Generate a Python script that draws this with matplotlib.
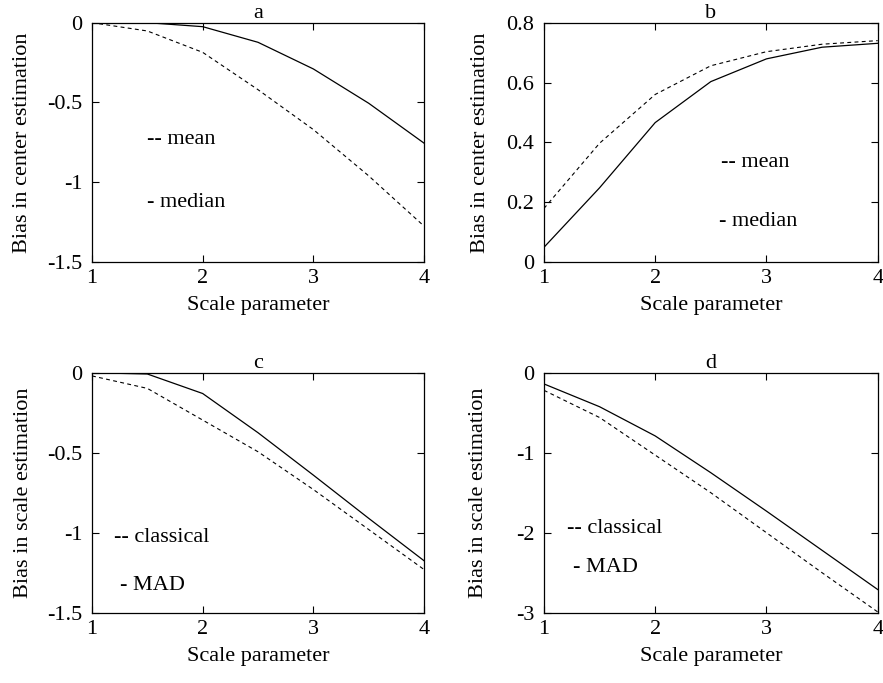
import matplotlib
matplotlib.use("Agg")
import matplotlib.pyplot as plt

plt.rcParams['font.family'] = ['Liberation Serif', 'DejaVu Serif']

# Skalenparameter
x = [1, 1.5, 2, 2.5, 3, 3.5, 4]

# a: Bias der Lageschaetzung
a_mean = [0, -0.052, -0.186, -0.42, -0.67, -0.96, -1.275]
a_median = [0, 0, -0.025, -0.123, -0.29, -0.505, -0.755]

# b: Bias der Lageschaetzung
b_mean = [0.179, 0.397, 0.56, 0.656, 0.703, 0.728, 0.74]
b_median = [0.049, 0.248, 0.466, 0.603, 0.679, 0.718, 0.731]

# c: Bias der Skalenschaetzung
c_classical = [-0.02, -0.098, -0.296, -0.494, -0.73, -0.98, -1.23]
c_mad = [0, -0.008, -0.13, -0.375, -0.64, -0.91, -1.175]

# d: Bias der Skalenschaetzung
d_classical = [-0.22, -0.56, -1.03, -1.5, -2.0, -2.5, -2.99]
d_mad = [-0.14, -0.425, -0.79, -1.25, -1.73, -2.22, -2.71]

fs = 16

fig = plt.figure(figsize=(8.83, 6.83), dpi=100)
axes = [
    fig.add_axes([0.1042, 0.6164, 0.376, 0.3504]),
    fig.add_axes([0.616, 0.6164, 0.378, 0.3504]),
    fig.add_axes([0.1042, 0.1029, 0.376, 0.3514]),
    fig.add_axes([0.616, 0.1029, 0.378, 0.3514]),
]

paneles = [
    ("a", a_mean, a_median, (-1.5, 0), [-1.5, -1, -0.5, 0], ["-1.5", "-1", "-0.5", "0"],
     "Bias in center estimation", "-- mean", "- median", (1.5, -0.73), (1.5, -1.13), -0.18),
    ("b", b_mean, b_median, (0, 0.8), [0, 0.2, 0.4, 0.6, 0.8], ["0", "0.2", "0.4", "0.6", "0.8"],
     "Bias in center estimation", "-- mean", "- median", (2.59, 0.334), (2.57, 0.137), -0.162),
    ("c", c_classical, c_mad, (-1.5, 0), [-1.5, -1, -0.5, 0], ["-1.5", "-1", "-0.5", "0"],
     "Bias in scale estimation", "-- classical", "- MAD", (1.2, -1.03), (1.25, -1.33), -0.178),
    ("d", d_classical, d_mad, (-3, 0), [-3, -2, -1, 0], ["-3", "-2", "-1", "0"],
     "Bias in scale estimation", "-- classical", "- MAD", (1.21, -1.95), (1.26, -2.44), -0.168),
]

for ax, (tit, dash, solid, ylim, yt, ytl, ylab, t1, t2, p1, p2, ylx) in zip(axes, paneles):
    ax.plot(x, dash, color='black', lw=0.8, dashes=(3.5, 3))
    ax.plot(x, solid, color='black', lw=0.9)
    ax.set_xlim(1, 4)
    ax.set_ylim(*ylim)
    ax.set_xticks([1, 2, 3, 4])
    ax.set_xticklabels(["1", "2", "3", "4"])
    ax.set_yticks(yt)
    ax.set_yticklabels(ytl)
    ax.tick_params(direction='in', top=True, right=True, length=5, width=0.8,
                   labelsize=fs)
    ax.tick_params(axis='x', pad=5)
    ax.tick_params(axis='y', pad=7)
    for s in ax.spines.values():
        s.set_linewidth(0.9)
    ax.set_title(tit, fontsize=fs, pad=3.5)
    ax.set_xlabel("Scale parameter", fontsize=fs, labelpad=6)
    ax.set_ylabel(ylab, fontsize=fs)
    ax.yaxis.set_label_coords(ylx, 0.5)
    ax.text(p1[0], p1[1], t1, fontsize=fs, va='center', ha='left')
    ax.text(p2[0], p2[1], t2, fontsize=fs, va='center', ha='left')

fig.savefig("out.png", dpi=100)
